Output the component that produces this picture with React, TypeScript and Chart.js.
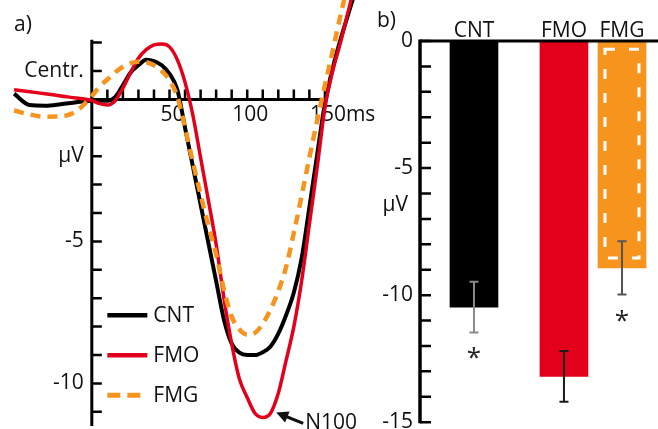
import React, { useEffect, useRef } from "react";
import { Chart, registerables } from "chart.js";

Chart.register(...registerables);

// ---------- Panel a: ERP waveforms ----------
const timesMs = [-50, -40, -30, -20, -10, 0, 5, 10, 15, 20, 25, 30, 35, 40, 45, 50, 55, 60, 65, 70, 75, 80, 85, 90, 95, 100, 105, 110, 115, 120, 125, 130, 135, 140, 145, 150, 155, 160, 165, 170];
const cntWave = [0.2, -0.2, -0.22, -0.17, -0.1, -0.05, -0.05, -0.05, 0.08, 0.5, 0.95, 1.2, 1.4, 1.35, 1.2, 0.9, 0.35, -1.0, -2.35, -3.7, -5.05, -6.4, -7.75, -8.6, -8.92, -9.0, -9.0, -8.9, -8.7, -8.25, -7.6, -6.8, -5.6, -3.8, -1.95, -0.15, 1.1, 2.1, 3.0, 3.9];
const fmoWave = [0.34, 0.27, 0.2, 0.12, 0.05, -0.04, -0.15, -0.2, -0.05, 0.4, 0.95, 1.45, 1.75, 1.92, 1.95, 1.85, 1.4, 0.6, -0.55, -2.05, -3.55, -5.1, -7.0, -8.6, -9.85, -10.5, -11.05, -11.2, -11.05, -10.35, -9.2, -8.0, -6.4, -4.4, -2.4, -0.3, 1.0, 2.0, 3.1, 4.2];
const fmgWave = [-0.39, -0.53, -0.61, -0.6, -0.42, 0.12, 0.45, 0.7, 0.95, 1.15, 1.28, 1.33, 1.31, 1.2, 1.0, 0.68, 0.1, -1.0, -2.2, -3.35, -4.45, -5.45, -6.7, -7.65, -8.1, -8.28, -8.22, -7.9, -7.4, -6.75, -5.9, -4.7, -3.4, -2.05, -0.75, 0.5, 1.7, 2.95, 4.1, 5.2];

const waveLabels = ["CNT", "FMO", "FMG"];
const groupColors = ["#000000", "#e2001a", "#f7941d"];

const xTicksA = [10, 20, 30, 40, 50, 60, 70, 80, 90, 100, 110, 120, 130, 140, 150];
const xLabelsA = [50, 100, 150];
const xUnitA = "ms";
const yTicksA = [2, 1, -1, -2, -3, -4, -5, -6, -7, -8, -9, -10, -11];
const yLabelValuesA = [1, -2, -5, -10];
const yLabelTextsA = ["Centr.", "µV", "-5", "-10"];
const n100Time = 109;
const n100Value = -11.2;
const n100Text = "N100";

// ---------- Panel b: peak amplitudes ----------
const barGroups = ["CNT", "FMO", "FMG"];
const barPositions = [0.93, 2.48, 3.48];
const peakAmplitudes = [-10.47, -13.2, -8.93];
const peakErrors = [1.0, 1.0, 1.05];
const errorColors = ["#8a8a8a", "#1a1a1a", "#555555"];
const significant = [true, false, true];
const fmgInnerRange = [-0.32, -8.54];
const yTicksB = [0, -1, -2, -3, -4, -5, -6, -7, -8, -9, -10, -11, -12, -13, -14, -15];
const yLabelsB = [0, -5, -10, -15];
const unitLabelValueB = -6.45;

const FONT = '21px "Open Sans", sans-serif';

const panelAPlugin = {
  id: "panelA",
  beforeDatasetsDraw(chart: any) {
    const { ctx } = chart;
    const xs = chart.scales.x;
    const ys = chart.scales.y;
    const x0 = xs.getPixelForValue(0);
    const y0 = ys.getPixelForValue(0);
    ctx.save();
    ctx.strokeStyle = "#000";
    ctx.lineWidth = 3;
    ctx.beginPath();
    ctx.moveTo(x0, ys.getPixelForValue(2.1));
    ctx.lineTo(x0, ys.getPixelForValue(-11.5));
    ctx.moveTo(x0 - 1.5, y0);
    ctx.lineTo(xs.getPixelForValue(150) + 1.5, y0);
    ctx.stroke();
    ctx.lineWidth = 2.5;
    ctx.beginPath();
    yTicksA.forEach((v) => {
      const y = ys.getPixelForValue(v);
      ctx.moveTo(x0, y);
      ctx.lineTo(x0 + 10, y);
    });
    xTicksA.forEach((t) => {
      const x = xs.getPixelForValue(t);
      ctx.moveTo(x, y0);
      ctx.lineTo(x, y0 - 10);
    });
    ctx.stroke();

    ctx.fillStyle = "#111";
    ctx.font = FONT;
    ctx.textBaseline = "middle";
    ctx.textAlign = "right";
    yLabelValuesA.forEach((v, i) => {
      ctx.fillText(yLabelTextsA[i], x0 - 8, ys.getPixelForValue(v));
    });
    ctx.textAlign = "center";
    xLabelsA.forEach((t, i) => {
      const x = xs.getPixelForValue(t) + 3;
      const txt = String(t);
      ctx.fillText(txt, x, y0 + 16);
      if (i === xLabelsA.length - 1) {
        const w = ctx.measureText(txt).width;
        ctx.textAlign = "left";
        ctx.fillText(xUnitA, x + w / 2, y0 + 16);
        ctx.textAlign = "center";
      }
    });
    ctx.textAlign = "left";
    ctx.fillText("a)", 14, 25);
    ctx.restore();
  },
  afterDatasetsDraw(chart: any) {
    const { ctx } = chart;
    const xs = chart.scales.x;
    const ys = chart.scales.y;
    ctx.save();
    // legend
    const ds = chart.data.datasets;
    const legendX = xs.getPixelForValue(10);
    const legendTop = ys.getPixelForValue(-7.6);
    ds.forEach((d: any, i: number) => {
      const y = legendTop + i * 40;
      ctx.strokeStyle = d.borderColor;
      ctx.lineWidth = i === 2 ? 5 : 4.5;
      ctx.setLineDash(i === 2 ? [13, 7] : []);
      ctx.beginPath();
      ctx.moveTo(legendX, y);
      ctx.lineTo(legendX + 40, y);
      ctx.stroke();
      ctx.setLineDash([]);
      ctx.fillStyle = "#111";
      ctx.font = FONT;
      ctx.textBaseline = "middle";
      ctx.textAlign = "left";
      ctx.fillText(d.label, legendX + 46, y + 1);
    });
    // N100 annotation
    const px = xs.getPixelForValue(n100Time);
    const py = ys.getPixelForValue(n100Value);
    const tipX = px + 15;
    const tipY = py - 5;
    const tailX = px + 42;
    const tailY = py + 6;
    const ang = Math.atan2(tipY - tailY, tipX - tailX);
    ctx.strokeStyle = "#111";
    ctx.fillStyle = "#111";
    ctx.lineWidth = 3;
    ctx.beginPath();
    ctx.moveTo(tailX, tailY);
    ctx.lineTo(tipX - 6 * Math.cos(ang), tipY - 6 * Math.sin(ang));
    ctx.stroke();
    ctx.beginPath();
    ctx.moveTo(tipX, tipY);
    ctx.lineTo(tipX - 12 * Math.cos(ang) + 6 * Math.sin(ang), tipY - 12 * Math.sin(ang) - 6 * Math.cos(ang));
    ctx.lineTo(tipX - 12 * Math.cos(ang) - 6 * Math.sin(ang), tipY - 12 * Math.sin(ang) + 6 * Math.cos(ang));
    ctx.closePath();
    ctx.fill();
    ctx.font = FONT;
    ctx.textAlign = "left";
    ctx.textBaseline = "alphabetic";
    ctx.fillText(n100Text, tailX + 2, py + 12);
    ctx.restore();
  },
};

const panelBPlugin = {
  id: "panelB",
  afterDatasetsDraw(chart: any) {
    const { ctx } = chart;
    const xs = chart.scales.x;
    const ys = chart.scales.y;
    const ax = xs.getPixelForValue(0);
    const y0 = ys.getPixelForValue(0);
    ctx.save();
    // inner dashed rectangle in FMG bar
    const fx = xs.getPixelForValue(barPositions[2]);
    const fTop = ys.getPixelForValue(fmgInnerRange[0]);
    const fBot = ys.getPixelForValue(fmgInnerRange[1]);
    ctx.strokeStyle = "#ffffff";
    ctx.lineWidth = 3;
    ctx.setLineDash([10, 14]);
    ctx.strokeRect(fx - 17, fTop, 34, fBot - fTop);
    ctx.setLineDash([]);

    // error bars
    peakAmplitudes.forEach((v, i) => {
      const x = xs.getPixelForValue(barPositions[i]);
      const yt = ys.getPixelForValue(v + peakErrors[i]);
      const yb = ys.getPixelForValue(v - peakErrors[i]);
      ctx.strokeStyle = errorColors[i];
      ctx.lineWidth = 2;
      ctx.beginPath();
      ctx.moveTo(x, yt);
      ctx.lineTo(x, yb);
      ctx.moveTo(x - 4.5, yt);
      ctx.lineTo(x + 4.5, yt);
      ctx.moveTo(x - 4.5, yb);
      ctx.lineTo(x + 4.5, yb);
      ctx.stroke();
      if (significant[i]) {
        ctx.fillStyle = "#222";
        ctx.font = '26px "Open Sans", sans-serif';
        ctx.textAlign = "center";
        ctx.textBaseline = "alphabetic";
        ctx.fillText("*", x, yb + 20 + 14);
      }
    });

    // axes
    ctx.strokeStyle = "#000";
    ctx.lineWidth = 3.5;
    ctx.beginPath();
    ctx.moveTo(ax, y0 - 1.5);
    ctx.lineTo(ax, ys.getPixelForValue(-15) + 1);
    ctx.stroke();
    ctx.lineWidth = 3;
    ctx.beginPath();
    ctx.moveTo(ax, y0);
    ctx.lineTo(chart.chartArea.right, y0);
    ctx.stroke();
    ctx.lineWidth = 2.5;
    ctx.beginPath();
    yTicksB.forEach((v) => {
      const y = ys.getPixelForValue(v);
      ctx.moveTo(ax, y);
      ctx.lineTo(ax + 11, y);
    });
    ctx.stroke();

    ctx.fillStyle = "#111";
    ctx.font = FONT;
    ctx.textAlign = "right";
    ctx.textBaseline = "middle";
    yLabelsB.forEach((v) => {
      ctx.fillText(String(v), ax - 7, ys.getPixelForValue(v));
    });
    ctx.fillText("µV", ax - 12, ys.getPixelForValue(unitLabelValueB));
    ctx.textAlign = "center";
    ctx.textBaseline = "alphabetic";
    barGroups.forEach((g, i) => {
      ctx.fillText(g, xs.getPixelForValue(barPositions[i]), y0 - 4);
    });
    ctx.textAlign = "left";
    ctx.textBaseline = "middle";
    ctx.fillText("b)", 7, 21);
    ctx.restore();
  },
};

export default function App() {
  const refA = useRef<HTMLCanvasElement | null>(null);
  const refB = useRef<HTMLCanvasElement | null>(null);

  useEffect(() => {
    if (!refA.current || !refB.current) return;
    const waves = [cntWave, fmoWave, fmgWave];
    const chartA = new Chart(refA.current, {
      type: "line",
      data: {
        datasets: waves.map((w, i) => ({
          label: waveLabels[i],
          data: timesMs.map((t, k) => ({ x: t, y: w[k] })),
          borderColor: groupColors[i],
          borderWidth: i === 0 ? 4 : i === 1 ? 3.5 : 4.5,
          borderDash: i === 2 ? [10, 7] : [],
          pointRadius: 0,
          fill: false,
          cubicInterpolationMode: "monotone",
          order: 3 - i,
        })),
      },
      options: {
        responsive: false,
        animation: false,
        devicePixelRatio: 1,
        layout: { padding: { left: 11, right: 24, top: 0, bottom: 3 } },
        scales: {
          x: { type: "linear", min: -52, max: 170, display: false, offset: false },
          y: { type: "linear", min: -11.5, max: 3.5, display: false },
        },
        plugins: { legend: { display: false }, tooltip: { enabled: false } },
      },
      plugins: [panelAPlugin],
    } as any);

    const chartB = new Chart(refB.current, {
      type: "bar",
      data: {
        datasets: [
          {
            label: "Peak",
            data: barPositions.map((x, i) => ({ x, y: peakAmplitudes[i] })),
            backgroundColor: groupColors,
            borderWidth: 0,
            barThickness: 48,
          },
        ],
      },
      options: {
        responsive: false,
        animation: false,
        devicePixelRatio: 1,
        layout: { padding: { left: 50, right: 0, top: 41, bottom: 3 } },
        scales: {
          x: { type: "linear", min: 0, max: 4.1, display: false, offset: false },
          y: { type: "linear", min: -15.15, max: 0, display: false },
        },
        plugins: { legend: { display: false }, tooltip: { enabled: false } },
      },
      plugins: [panelBPlugin],
    } as any);

    return () => {
      chartA.destroy();
      chartB.destroy();
    };
  }, []);

  return (
    <div style={{ position: "fixed", left: 0, top: 0, width: 658, height: 429, background: "#fff", overflow: "hidden" }}>
      <canvas ref={refA} width={380} height={429} style={{ position: "absolute", left: 0, top: 0 }} />
      <canvas ref={refB} width={288} height={429} style={{ position: "absolute", left: 370, top: 0 }} />
    </div>
  );
}
